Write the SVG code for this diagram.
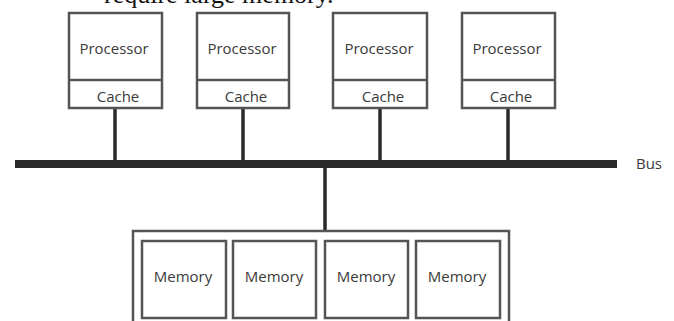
<svg xmlns="http://www.w3.org/2000/svg" width="674" height="321" viewBox="0 0 674 321">
<style>
.box{fill:#fff;stroke:#555;stroke-width:2.5}
.div{stroke:#555;stroke-width:2.5}
.lbl{font-family:"Open Sans","Liberation Sans",sans-serif;font-size:15px;fill:#3a3a3a;text-anchor:middle}
.wire{stroke:#2a2a2a;stroke-width:3.5;fill:none}
.bus{stroke:#2a2a2a;stroke-width:8;fill:none}
</style>
<rect width="674" height="321" fill="#fff"/>
<text x="104" y="3" font-family="'Liberation Serif',serif" font-size="26" fill="#111">require large memory.</text>
<g id="connectors">
<line class="bus" x1="15" y1="164" x2="617" y2="164"/>
<line class="wire" x1="115" y1="108" x2="115" y2="164"/>
<line class="wire" x1="243" y1="108" x2="243" y2="164"/>
<line class="wire" x1="380" y1="108" x2="380" y2="164"/>
<line class="wire" x1="508" y1="108" x2="508" y2="164"/>
<line class="wire" x1="325" y1="164" x2="325" y2="231"/>
</g>
<g id="bus-label"><text class="lbl" x="649" y="169">Bus</text></g>
<g id="cpu1">
<rect class="box" x="69" y="13" width="93" height="95"/>
<line class="div" x1="69" y1="80" x2="162" y2="80"/>
<text class="lbl" x="114" y="54">Processor</text>
<text class="lbl" x="118" y="102">Cache</text>
</g>
<g id="cpu2">
<rect class="box" x="197" y="13" width="92" height="95"/>
<line class="div" x1="197" y1="80" x2="289" y2="80"/>
<text class="lbl" x="242" y="54">Processor</text>
<text class="lbl" x="246" y="102">Cache</text>
</g>
<g id="cpu3">
<rect class="box" x="333" y="13" width="94" height="95"/>
<line class="div" x1="333" y1="80" x2="427" y2="80"/>
<text class="lbl" x="379" y="54">Processor</text>
<text class="lbl" x="383" y="102">Cache</text>
</g>
<g id="cpu4">
<rect class="box" x="462" y="13" width="93" height="95"/>
<line class="div" x1="462" y1="80" x2="555" y2="80"/>
<text class="lbl" x="507" y="54">Processor</text>
<text class="lbl" x="511" y="102">Cache</text>
</g>
<g id="memory-bank">
<rect class="box" x="133" y="231" width="376" height="100"/>
</g>
<g id="mem1">
<rect class="box" x="142" y="241" width="84" height="77"/>
<text class="lbl" x="183" y="282">Memory</text>
</g>
<g id="mem2">
<rect class="box" x="233" y="241" width="83" height="77"/>
<text class="lbl" x="274" y="282">Memory</text>
</g>
<g id="mem3">
<rect class="box" x="325" y="241" width="83" height="77"/>
<text class="lbl" x="366" y="282">Memory</text>
</g>
<g id="mem4">
<rect class="box" x="416" y="241" width="84" height="77"/>
<text class="lbl" x="457" y="282">Memory</text>
</g>
</svg>
